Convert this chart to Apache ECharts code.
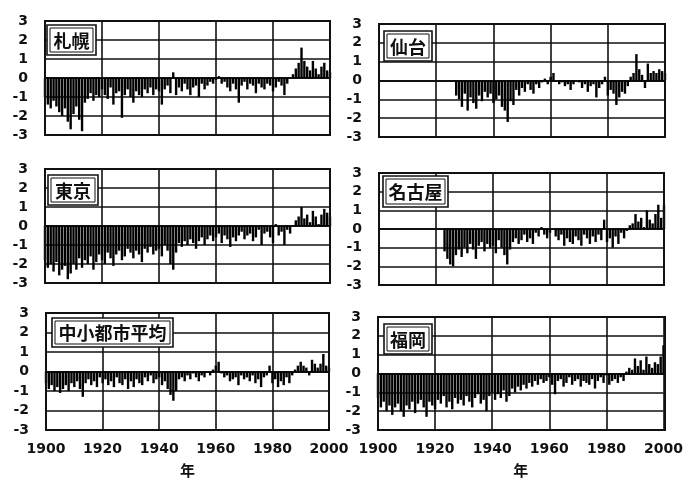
<!DOCTYPE html>
<html><head><meta charset="utf-8">
<script src="https://cdn.jsdelivr.net/npm/echarts@6/dist/echarts.min.js"></script>
<style>html,body{margin:0;padding:0;background:#fff}#c{width:686px;height:480px}</style>
</head><body><div id="c"></div>
<script>
const startYear = 1900;
const xTicks = [1900, 1920, 1940, 1960, 1980, 2000];
const yTicks = [-3, -2, -1, 0, 1, 2, 3];
const cityNames = ['札幌', '仙台', '東京', '名古屋', '中小都市平均', '福岡'];

const sapporo = [
 -1.0,-1.4,-1.6,-1.2,-1.5,-1.8,-2.0,-1.6,-2.3,-2.7,
 -1.9,-1.5,-2.2,-2.8,-1.3,-1.1,-0.8,-1.2,-0.9,-1.0,
 -0.6,-0.9,-1.1,-0.5,-1.4,-0.8,-0.7,-2.1,-0.9,-0.6,
 -1.0,-1.3,-0.7,-0.9,-1.0,-0.6,-0.8,-0.5,-0.9,-0.6,
 -0.7,-1.4,-0.6,-0.4,-0.8,0.3,-0.9,-0.5,-0.7,-0.3,
 -0.6,-0.9,-0.5,-0.4,-1.0,-0.3,-0.6,-0.4,-0.2,-0.3,
 -0.1,0.1,-0.3,-0.2,-0.5,-0.7,-0.3,-0.6,-1.3,-0.4,
 -0.2,-0.6,-0.3,-0.4,-0.8,-0.3,-0.5,-0.6,-0.3,-0.4,
 -0.7,-0.5,-0.2,-0.4,-0.9,-0.3,0.0,0.2,0.5,0.8,
 1.6,0.9,0.6,0.4,0.9,0.5,0.2,0.6,0.8,0.4,0.3];

const sendai = [
 null,null,null,null,null,null,null,null,null,null,
 null,null,null,null,null,null,null,null,null,null,
 null,null,null,null,null,null,null,-0.8,-1.0,-1.4,
 -0.7,-1.6,-0.9,-1.2,-1.5,-0.8,-1.1,-0.6,-0.9,-0.7,
 -1.2,-1.0,-0.8,-1.4,-1.6,-2.2,-1.1,-1.3,-0.5,-0.8,
 -0.4,-0.6,-0.2,-0.5,-0.7,-0.2,-0.4,-0.1,0.1,-0.2,
 0.2,0.4,0.0,-0.2,-0.1,-0.3,-0.2,-0.5,-0.2,0.0,
 -0.1,-0.4,-0.2,-0.6,-0.3,-0.2,-0.9,-0.4,-0.2,0.2,
 -0.8,-0.5,-0.7,-1.3,-0.9,-0.6,-0.7,-0.3,0.2,0.4,
 1.4,0.6,0.3,-0.4,0.9,0.4,0.5,0.4,0.6,0.5,0.4];

const tokyo = [
 -1.8,-2.2,-2.0,-2.4,-1.9,-2.6,-2.3,-2.1,-2.8,-2.5,
 -2.0,-2.3,-1.7,-2.2,-1.8,-2.0,-1.6,-2.3,-1.9,-1.5,
 -1.8,-2.0,-1.4,-1.7,-2.1,-1.5,-1.3,-1.8,-1.6,-1.2,
 -1.4,-1.7,-1.3,-1.5,-1.9,-1.2,-1.4,-1.1,-1.5,-1.3,
 -1.2,-1.6,-1.0,-1.3,-2.0,-2.3,-1.4,-0.9,-1.1,-0.8,
 -1.0,-0.7,-0.9,-1.2,-0.8,-0.6,-1.0,-0.7,-0.5,-0.8,
 -0.6,-0.4,-0.9,-0.5,-0.7,-1.1,-0.6,-0.8,-0.5,-0.3,
 -0.7,-0.5,-0.4,-0.8,-0.6,-0.2,-1.0,-0.4,-0.3,-0.6,
 -0.9,0.1,-0.5,-0.3,-1.0,-0.2,-0.4,0.0,0.3,0.5,
 1.0,0.4,0.6,0.2,0.8,0.5,0.1,0.6,0.9,0.7,0.5];

const nagoya = [
 null,null,null,null,null,null,null,null,null,null,
 null,null,null,null,null,null,null,null,null,null,
 null,null,null,-1.2,-1.6,-1.9,-2.0,-1.4,-1.1,-1.5,
 -1.0,-1.3,-0.8,-1.1,-1.6,-0.9,-0.7,-1.2,-0.8,-1.0,
 -0.9,-1.3,-0.6,-1.0,-1.4,-1.9,-1.1,-0.7,-0.5,-0.8,
 -0.6,-0.3,-0.7,-0.5,-0.8,-0.2,-0.4,0.1,-0.3,-0.5,
 -0.2,0.0,-0.4,-0.6,-0.3,-0.9,-0.5,-0.7,-0.8,-0.4,
 -0.6,-0.9,-0.3,-0.5,-0.8,-0.4,-0.7,-0.3,-0.6,0.5,
 -0.7,-0.5,-1.0,-0.4,-0.8,-0.2,-0.5,-0.1,0.2,0.3,
 0.8,0.4,0.6,0.1,1.0,0.5,0.3,0.8,1.3,0.6,1.3];

const smallCities = [
 -0.6,-0.9,-0.7,-1.0,-0.8,-1.1,-0.9,-0.7,-1.0,-0.6,
 -0.8,-0.5,-0.9,-1.3,-0.6,-0.4,-0.7,-0.5,-0.8,-0.3,
 -0.6,-0.4,-0.7,-0.5,-0.8,-0.3,-0.6,-0.7,-0.4,-0.9,
 -0.5,-0.8,-0.4,-0.6,-0.7,-0.3,-0.5,-0.2,-0.6,-0.4,
 -0.3,-0.7,-0.5,-0.9,-1.2,-1.5,-1.0,-0.4,-0.3,-0.5,
 -0.2,-0.4,-0.1,-0.3,-0.5,-0.2,-0.3,0.0,-0.2,0.1,
 0.3,0.5,-0.1,-0.3,-0.2,-0.5,-0.4,-0.3,-0.7,-0.2,
 -0.4,-0.3,-0.5,-0.2,-0.6,-0.4,-0.8,-0.3,-0.2,0.3,
 -0.6,-0.4,-0.8,-0.5,-0.7,-0.3,-0.6,-0.2,0.1,0.3,
 0.5,0.3,0.2,-0.2,0.6,0.4,0.2,0.4,0.9,0.3,0.2];

const fukuoka = [
 -1.3,-1.8,-1.5,-2.0,-1.7,-2.2,-1.8,-1.6,-2.0,-2.3,
 -1.7,-1.9,-1.5,-2.1,-1.6,-1.4,-1.8,-2.3,-1.5,-1.7,
 -1.9,-1.4,-1.6,-1.2,-1.8,-1.5,-1.9,-1.3,-1.6,-1.4,
 -1.7,-1.2,-1.5,-1.8,-1.3,-1.1,-1.6,-1.4,-2.0,-1.2,
 -1.0,-1.4,-1.1,-1.3,-0.9,-1.5,-1.2,-0.8,-1.0,-0.7,
 -0.9,-0.6,-0.8,-0.5,-0.7,-0.4,-0.6,-0.3,-0.5,-0.4,
 -0.2,-0.6,-1.1,-0.4,-0.3,-0.7,-0.5,-0.2,-0.6,-0.4,
 -0.3,-0.7,-0.4,-0.5,-0.6,-0.3,-0.8,-0.4,-0.2,-0.5,
 -0.1,-0.6,-0.4,-0.3,-0.5,-0.2,-0.4,0.1,0.3,0.2,
 0.8,0.4,0.7,0.2,0.9,0.5,0.3,0.6,0.5,0.9,1.5];

const cityData = [sapporo, sendai, tokyo, nagoya, smallCities, fukuoka];

const grids = [
 {left:45, top:21, width:285, height:114},
 {left:379, top:24, width:286, height:113},
 {left:45, top:169, width:285, height:114},
 {left:379, top:173, width:285, height:112},
 {left:46, top:313, width:283, height:117},
 {left:378, top:317, width:287, height:113}
];
const boxes = [
 {x:47,y:25,w:49,h:30},
 {x:384,y:31,w:48,h:30},
 {x:48,y:175,w:50,h:30},
 {x:383,y:176,w:65,h:31},
 {x:52,y:318,w:121,h:29},
 {x:384,y:324,w:48,h:30}
];

const chart = echarts.init(document.getElementById('c'), null, {renderer:'canvas'});
const font = '"DejaVu Sans", "Liberation Sans", Arial, sans-serif';
const xAxes = [], yAxes = [], series = [], graphics = [];
cityData.forEach((arr, i) => {
  const bottomRow = i >= 4;
  xAxes.push({
    type:'value', gridIndex:i, min:xTicks[0], max:xTicks[xTicks.length-1], interval:20,
    axisLine:{show:true, lineStyle:{color:'#111', width:2}},
    axisTick:{show:false},
    splitLine:{show:true, lineStyle:{color:'#111', width:1.6}},
    axisLabel:{show:bottomRow, color:'#111', fontSize:14, fontWeight:'bold', fontFamily:font, margin:12,
      formatter:v=>String(v)},
    name: bottomRow ? '年' : '', nameLocation:'middle', nameGap:33,
    nameTextStyle:{color:'#111', fontSize:15, fontWeight:'bold', fontFamily:'"Noto Sans CJK JP", sans-serif'}
  });
  yAxes.push({
    type:'value', gridIndex:i, min:yTicks[0], max:yTicks[yTicks.length-1], interval:1,
    axisLine:{show:true, lineStyle:{color:'#111', width:2}},
    axisTick:{show:false},
    splitLine:{show:true, lineStyle:{color:'#111', width:1.6}},
    axisLabel:{color:'#111', fontSize:14, fontWeight:'bold', fontFamily:font, margin:17,
      formatter:v=>String(v)}
  });
  series.push({
    type:'bar', xAxisIndex:i, yAxisIndex:i, barWidth:2.4,
    itemStyle:{color:'#000'},
    data: arr.map((v, k) => [startYear + k, v]).filter(d => d[1] !== null),
    silent:true, animation:false
  });
  const b = boxes[i];
  graphics.push({type:'rect', shape:{x:b.x, y:b.y, width:b.w, height:b.h}, style:{fill:'#fff', stroke:'#111', lineWidth:1.6}, z:100});
  graphics.push({type:'rect', shape:{x:b.x+3, y:b.y+3, width:b.w-6, height:b.h-6}, style:{fill:'#fff', stroke:'#111', lineWidth:1}, z:101});
  graphics.push({type:'text', x:b.x + b.w/2, y:b.y + b.h/2 + 1, style:{text:cityNames[i], fill:'#111', font:'bold 18px "Noto Sans CJK JP", sans-serif', textAlign:'center', textVerticalAlign:'middle'}, z:102});
});
grids.forEach((g) => {
  graphics.push({type:'rect', shape:{x:g.left, y:g.top, width:g.width, height:g.height}, style:{fill:'none', stroke:'#111', lineWidth:2}, z:90, silent:true});
});

chart.setOption({
  backgroundColor:'#fff',
  animation:false,
  grid: grids,
  xAxis: xAxes,
  yAxis: yAxes,
  series: series,
  graphic: graphics
});
</script>
</body></html>
